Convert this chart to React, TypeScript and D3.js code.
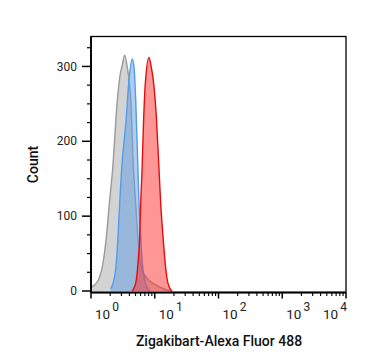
import React from "react";
import * as d3 from "d3";

// fluorescence (linear units) and counts
const isotypeX = [1.0, 1.14, 1.37, 1.54, 1.74, 1.94, 2.17, 2.59, 2.88, 3.06, 3.38, 3.71, 4.2, 4.68, 5.08, 5.46, 5.87, 6.31, 7.29, 8.41, 10.5, 13.0, 16.1, 18.6];
const isotypeY = [5, 8, 19, 37, 72, 117, 160, 255, 290, 300, 315, 299, 255, 157, 110, 70, 42, 28, 19, 13, 8, 4, 1, 0];

const unstainedX = [2.04, 2.21, 2.49, 2.65, 2.82, 3.01, 3.58, 3.9, 4.44, 4.73, 5.03, 5.46, 5.66, 6.02, 6.38, 6.95, 7.64, 8.42];
const unstainedY = [3, 10, 37, 72, 117, 160, 232, 277, 310, 299, 255, 160, 117, 72, 37, 15, 4, 0];

const stainedX = [4.4, 4.73, 5.14, 5.46, 5.81, 6.02, 6.31, 6.71, 7.11, 8.12, 8.83, 9.63, 10.6, 11.7, 12.4, 13.5, 14.6, 15.7, 17.2, 18.7];
const stainedY = [0, 4, 15, 37, 72, 117, 160, 232, 277, 312, 299, 277, 232, 160, 117, 72, 37, 15, 4, 0];

const xDecades = [0, 1, 2, 3, 4];
const yMajor = [0, 100, 200, 300];
const yMinor = [25, 50, 75, 125, 150, 175, 225, 250, 275, 325];

const W = 367;
const H = 364;
const left = 91;
const right = 346;
const top = 36.5;
const bottom = 292.5;

const x = d3.scaleLog().domain([1, 10000]).range([left, right]);
const y = d3.scaleLinear().domain([-2, 340]).range([bottom, top]);

const area = d3
  .area<[number, number]>()
  .x((d) => x(d[0]))
  .y0(y(0))
  .y1((d) => y(d[1]))
  .curve(d3.curveMonotoneX);
const line = d3
  .line<[number, number]>()
  .x((d) => x(d[0]))
  .y((d) => y(d[1]))
  .curve(d3.curveMonotoneX);

const series = [
  { xs: isotypeX, ys: isotypeY, fill: "rgba(150,150,150,0.42)", stroke: "#9a9a9a" },
  { xs: unstainedX, ys: unstainedY, fill: "rgba(95,155,225,0.5)", stroke: "#4e9ef0" },
  { xs: stainedX, ys: stainedY, fill: "rgba(255,45,45,0.5)", stroke: "#e00f0f" },
];

const font = "Roboto, sans-serif";

export default function App() {
  const minor: number[] = [];
  xDecades.slice(0, -1).forEach((e) => {
    for (let k = 2; k <= 9; k++) minor.push(k * Math.pow(10, e));
  });
  return (
    <svg width={W} height={H} style={{ position: "absolute", left: 0, top: 0 }}>
      <rect width={W} height={H} fill="#fff" />
      {series.map((s, i) => {
        const pts = s.xs.map((v, j) => [v, s.ys[j]] as [number, number]);
        return (
          <g key={i}>
            <path d={area(pts) || ""} fill={s.fill} />
            <path d={line(pts) || ""} fill="none" stroke={s.stroke} strokeWidth={1.4} />
          </g>
        );
      })}
      <rect x={left} y={top} width={right - left} height={bottom - top} fill="none" stroke="#000" strokeWidth={1.3} />
      <line x1={left} x2={left} y1={top} y2={bottom} stroke="#000" strokeWidth={1.8} />
      <line x1={left} x2={right} y1={bottom} y2={bottom} stroke="#000" strokeWidth={1.8} />
      {yMajor.map((v) => (
        <g key={v}>
          <line x1={left - 9} x2={left} y1={y(v)} y2={y(v)} stroke="#000" strokeWidth={1.5} />
          <text x={left - 14} y={y(v)} dy="0.35em" textAnchor="end" fontFamily={font} fontSize={12} fill="#222">
            {v}
          </text>
        </g>
      ))}
      {yMinor.map((v) => (
        <line key={v} x1={left - 4} x2={left} y1={y(v)} y2={y(v)} stroke="#000" strokeWidth={1.2} />
      ))}
      {xDecades.map((e, i) => {
        const px = x(Math.pow(10, e));
        const last = i === xDecades.length - 1;
        const tx = last ? px - 23 : px + 4;
        return (
          <g key={e}>
            <line x1={px} x2={px} y1={bottom} y2={bottom + 6} stroke="#000" strokeWidth={1.5} />
            <text x={tx} y={319} fontFamily={font} fontSize={13.5} fill="#222">
              10
              <tspan dx={2} dy={-8.5} fontSize={12}>
                {e}
              </tspan>
            </text>
          </g>
        );
      })}
      {minor.map((v) => (
        <line key={v} x1={x(v)} x2={x(v)} y1={bottom} y2={bottom + 3.5} stroke="#000" strokeWidth={1.1} />
      ))}
      <text x={219} y={346} textAnchor="middle" fontFamily={font} fontSize={14} fontWeight={500} fill="#111">
        Zigakibart-Alexa Fluor 488
      </text>
      <text transform={`translate(38,${(top + bottom) / 2}) rotate(-90)`} textAnchor="middle" fontFamily={font} fontSize={14} fontWeight={500} fill="#111">
        Count
      </text>
    </svg>
  );
}
